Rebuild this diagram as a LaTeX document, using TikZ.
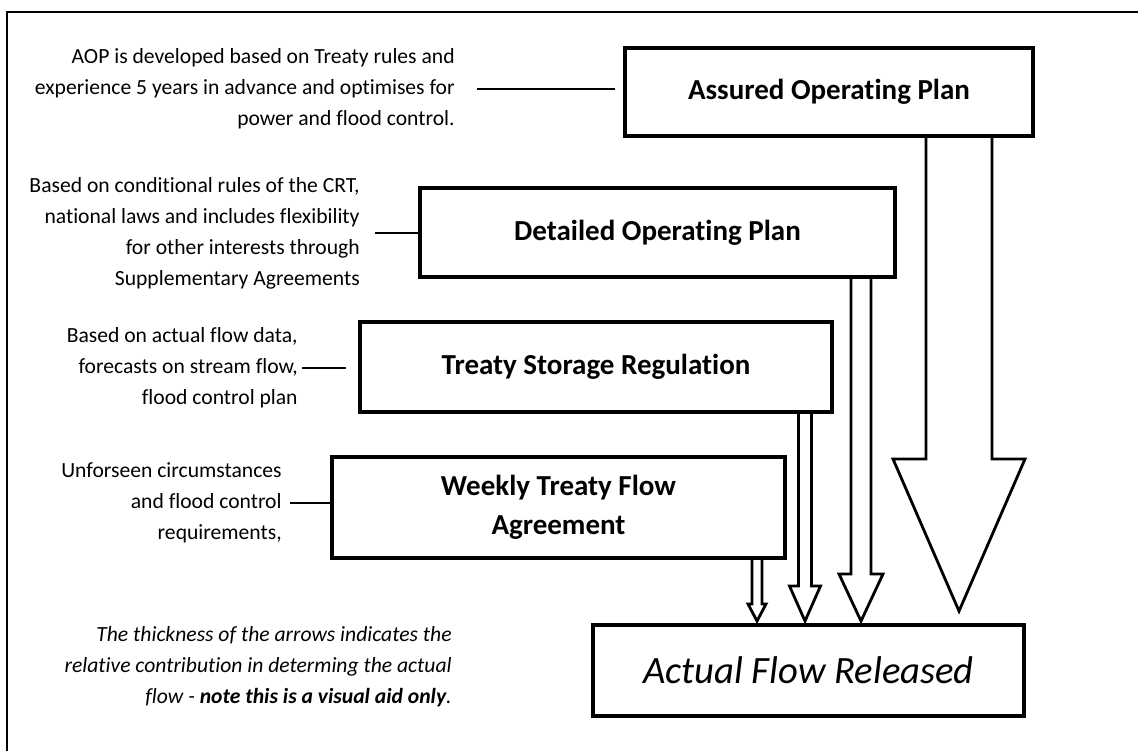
\documentclass[tikz,border=0pt]{standalone}
\usepackage{fontspec}
\setmainfont{Carlito}[Ligatures=NoCommon]
\usetikzlibrary{calc}

\tikzset{
  box/.style={draw, line width=2.2pt, inner sep=0pt, align=center,
    font=\bfseries\fontsize{16.5}{22.5}\selectfont},
  note/.style={inner sep=0pt, align=right, font=\fontsize{12.3}{17.6}\selectfont},
  link/.style={line width=1.4pt},
  blockarrow/.style={draw, line width=1.6pt, line join=miter},
  frame/.style={line width=1.1pt}
}

% #1 source, #2 centre x, #3 half shaft, #4 half head, #5 head top y, #6 gap above target
\newcommand{\flowarrow}[6]{%
  \draw[blockarrow] ({#2-#3},0 |- #1.south) -- ({#2-#3},#5) -- ({#2-#4},#5)
    -- ($(#2,0 |- afr.north)+(0,-#6)$) -- ({#2+#4},#5) -- ({#2+#3},#5)
    -- ({#2+#3},0 |- #1.south);
}

\begin{document}
\begin{tikzpicture}[x=0.02cm, y=-0.02cm]
  \useasboundingbox (0,0) rectangle (1138,751);
  \draw[frame] (7,751) -- (7,12) -- (1138,12);

  % the plans
  \node[box, minimum width=8.16cm, minimum height=1.76cm] (aop) at (829,92) {Assured Operating Plan};
  \node[box, minimum width=9.5cm, minimum height=1.78cm] (dop) at (657.5,232.5) {Detailed Operating Plan};
  \node[box, minimum width=9.44cm, minimum height=1.8cm] (tsr) at (596,367) {Treaty Storage Regulation};
  \node[box, minimum width=9.06cm, minimum height=2.02cm] (wtfa) at (558.5,507.5) {Weekly Treaty Flow\\Agreement};
  \node[box, minimum width=8.62cm, minimum height=1.82cm, font=\itshape\fontsize{22}{26}\selectfont] (afr) at (808.5,670.5) {Actual Flow Released};

  % notes
  \node[note, anchor=east] (aopnote) at (455,89) {AOP is developed based on Treaty rules and\\
    experience 5 years in advance and optimises for\\ power and flood control.};
  \node[note, anchor=east] (dopnote) at (360,233) {Based on conditional rules of the CRT,\\
    national laws and includes flexibility\\ for other interests through\\ Supplementary Agreements};
  \node[note, anchor=east] (tsrnote) at (298,368) {Based on actual flow data,\\
    forecasts on stream flow,\\ flood control plan};
  \node[note, anchor=east] (wtfanote) at (282,503) {Unforseen circumstances\\
    and flood control\\ requirements,};
  \node[note, anchor=east, font=\itshape\fontsize{12.3}{17.6}\selectfont] (legend) at (452,667)
    {The thickness of the arrows indicates the\\ relative contribution in determing the actual\\
    flow - \textbf{note this is a visual aid only}.};

  % note links
  \draw[link, shorten <=0.44cm, shorten >=0.16cm] (aopnote.east) -- (aopnote.east -| aop.west);
  \draw[link, shorten <=0.3cm] (dopnote.east) -- (dopnote.east -| dop.west);
  \draw[link, shorten <=0.08cm, shorten >=0.24cm] (tsrnote.east) -- (tsrnote.east -| tsr.west);
  \draw[link, shorten <=0.16cm] (wtfanote.east) -- (wtfanote.east -| wtfa.west);

  % contributions
  \flowarrow{aop}{959}{33}{66}{459}{12}
  \flowarrow{dop}{861}{10}{22}{574}{2}
  \flowarrow{tsr}{805}{6.5}{15.5}{586}{2}
  \flowarrow{wtfa}{757}{5}{9}{604}{2}
\end{tikzpicture}
\end{document}
